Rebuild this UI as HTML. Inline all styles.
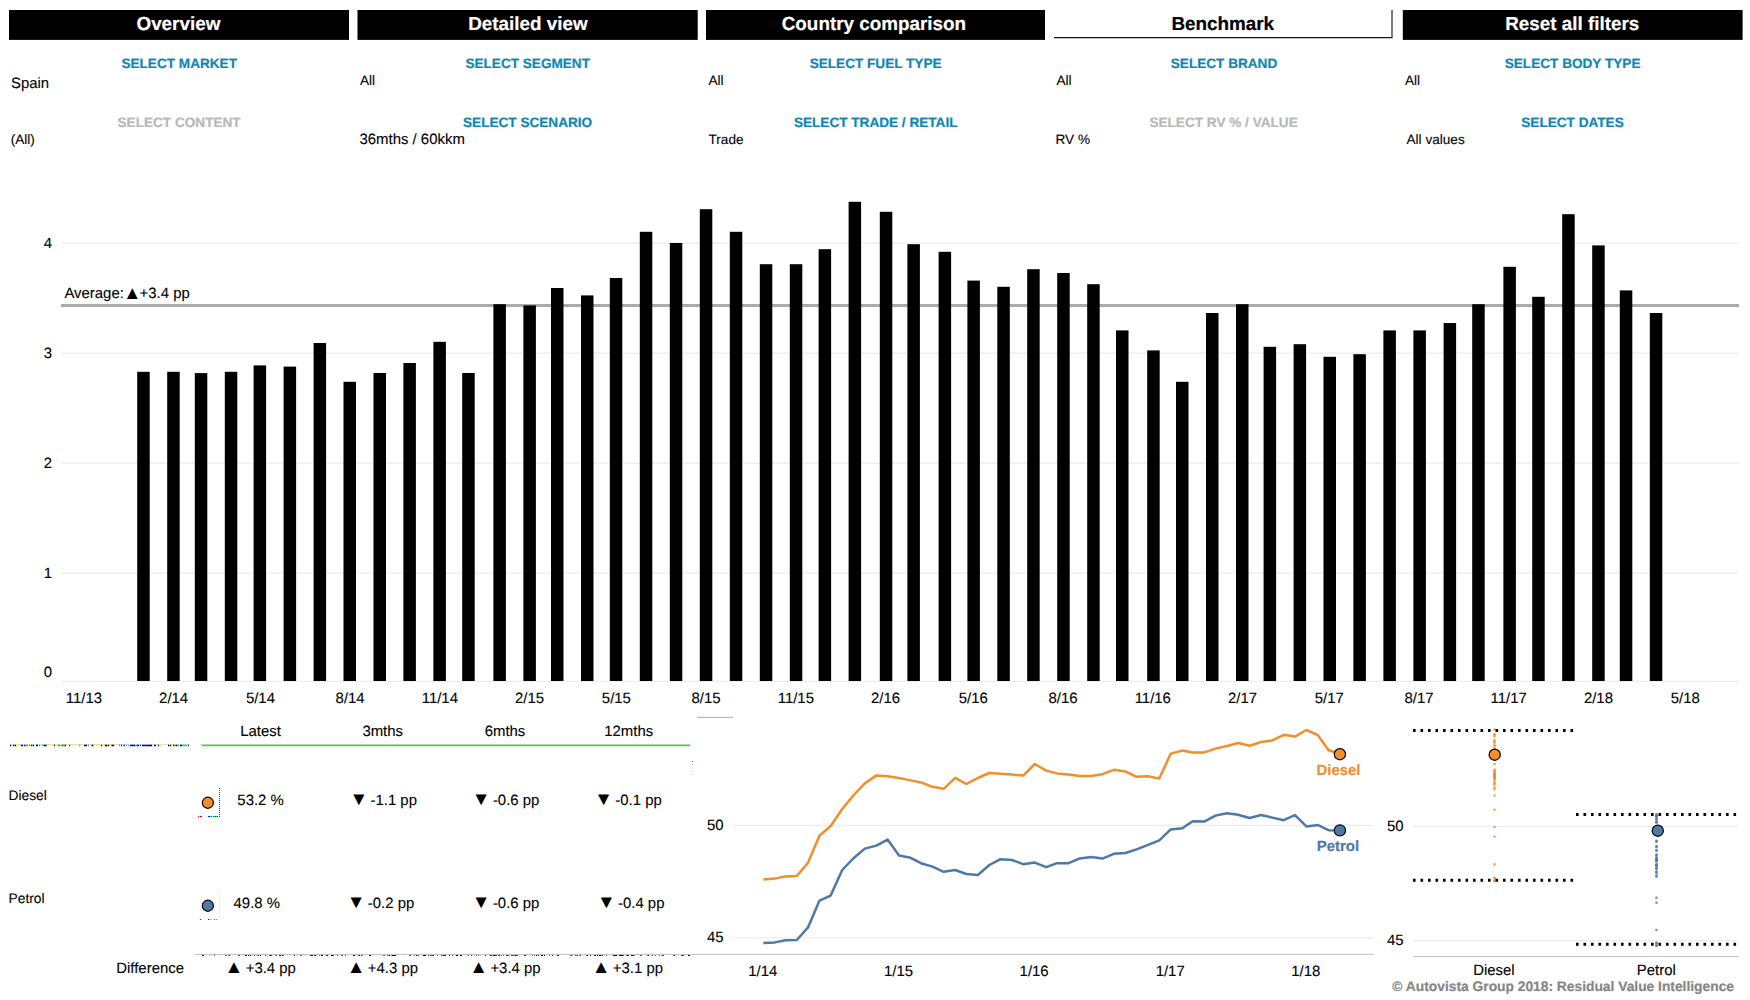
<!DOCTYPE html>
<html><head><meta charset="utf-8"><title>Benchmark</title>
<style>
html,body{margin:0;padding:0;background:#fff;}
body{width:1750px;height:1000px;overflow:hidden;}
svg{display:block;text-rendering:geometricPrecision;font-family:'Liberation Sans', Arial, sans-serif;}
</style></head><body>
<svg width="1750" height="1000" viewBox="0 0 1750 1000">
<rect x="9" y="10" width="340" height="29.9" fill="#000"/>
<text x="178.40" y="29.90" font-size="18.85" text-anchor="middle" font-weight="bold" fill="#fff" stroke="#fff" stroke-width="0.2">Overview</text>
<rect x="357.5" y="10" width="340.20000000000005" height="29.9" fill="#000"/>
<text x="527.90" y="29.90" font-size="18.85" text-anchor="middle" font-weight="bold" fill="#fff" stroke="#fff" stroke-width="0.2">Detailed view</text>
<rect x="706" y="10" width="339" height="29.9" fill="#000"/>
<text x="873.90" y="29.90" font-size="18.85" text-anchor="middle" font-weight="bold" fill="#fff" stroke="#fff" stroke-width="0.2">Country comparison</text>
<path d="M1054 37.6H1392.0V10" fill="none" stroke="#111" stroke-width="1.1"/>
<text x="1222.70" y="29.90" font-size="18.85" text-anchor="middle" font-weight="bold" fill="#000" stroke="#000" stroke-width="0.2">Benchmark</text>
<rect x="1402.8" y="10" width="339.79999999999995" height="29.9" fill="#000"/>
<text x="1572.30" y="29.90" font-size="18.85" text-anchor="middle" font-weight="bold" fill="#fff" stroke="#fff" stroke-width="0.2">Reset all filters</text>
<text x="179.20" y="68.30" font-size="13.6" text-anchor="middle" font-weight="bold" fill="#0c87b4" stroke="#0c87b4" stroke-width="0.2">SELECT MARKET</text>
<text x="527.70" y="68.30" font-size="13.6" text-anchor="middle" font-weight="bold" fill="#0c87b4" stroke="#0c87b4" stroke-width="0.2">SELECT SEGMENT</text>
<text x="875.60" y="68.30" font-size="13.6" text-anchor="middle" font-weight="bold" fill="#0c87b4" stroke="#0c87b4" stroke-width="0.2">SELECT FUEL TYPE</text>
<text x="1224.00" y="68.30" font-size="13.6" text-anchor="middle" font-weight="bold" fill="#0c87b4" stroke="#0c87b4" stroke-width="0.2">SELECT BRAND</text>
<text x="1572.60" y="68.30" font-size="13.6" text-anchor="middle" font-weight="bold" fill="#0c87b4" stroke="#0c87b4" stroke-width="0.2">SELECT BODY TYPE</text>
<text x="179.10" y="127.10" font-size="13.6" text-anchor="middle" font-weight="bold" fill="#b8b8b8" stroke="#b8b8b8" stroke-width="0.2">SELECT CONTENT</text>
<text x="527.60" y="127.10" font-size="13.6" text-anchor="middle" font-weight="bold" fill="#0c87b4" stroke="#0c87b4" stroke-width="0.2">SELECT SCENARIO</text>
<text x="875.70" y="127.10" font-size="13.6" text-anchor="middle" font-weight="bold" fill="#0c87b4" stroke="#0c87b4" stroke-width="0.2">SELECT TRADE / RETAIL</text>
<text x="1223.60" y="127.10" font-size="13.6" text-anchor="middle" font-weight="bold" fill="#b8b8b8" stroke="#b8b8b8" stroke-width="0.2">SELECT RV % / VALUE</text>
<text x="1572.50" y="127.10" font-size="13.6" text-anchor="middle" font-weight="bold" fill="#0c87b4" stroke="#0c87b4" stroke-width="0.2">SELECT DATES</text>
<text x="11.00" y="88.00" font-size="14.93" text-anchor="start" font-weight="normal" fill="#000" stroke="#000" stroke-width="0.1">Spain</text>
<text x="360.00" y="84.50" font-size="13.6" text-anchor="start" font-weight="normal" fill="#000" stroke="#000" stroke-width="0.1">All</text>
<text x="708.40" y="84.50" font-size="13.6" text-anchor="start" font-weight="normal" fill="#000" stroke="#000" stroke-width="0.1">All</text>
<text x="1056.50" y="84.50" font-size="13.6" text-anchor="start" font-weight="normal" fill="#000" stroke="#000" stroke-width="0.1">All</text>
<text x="1405.00" y="84.50" font-size="13.6" text-anchor="start" font-weight="normal" fill="#000" stroke="#000" stroke-width="0.1">All</text>
<text x="10.70" y="143.50" font-size="13.6" text-anchor="start" font-weight="normal" fill="#000" stroke="#000" stroke-width="0.1">(All)</text>
<text x="359.50" y="143.90" font-size="14.93" text-anchor="start" font-weight="normal" fill="#000" stroke="#000" stroke-width="0.1">36mths / 60kkm</text>
<text x="708.50" y="143.60" font-size="13.6" text-anchor="start" font-weight="normal" fill="#000" stroke="#000" stroke-width="0.1">Trade</text>
<text x="1055.50" y="143.60" font-size="13.6" text-anchor="start" font-weight="normal" fill="#000" stroke="#000" stroke-width="0.1">RV %</text>
<text x="1406.50" y="143.60" font-size="13.6" text-anchor="start" font-weight="normal" fill="#000" stroke="#000" stroke-width="0.1">All values</text>
<rect x="61" y="242.5" width="1677.5" height="1.2" fill="#ececec"/>
<text x="52.00" y="247.90" font-size="14.93" text-anchor="end" font-weight="normal" fill="#000" stroke="#000" stroke-width="0.1">4</text>
<rect x="61" y="352.5" width="1677.5" height="1.2" fill="#ececec"/>
<text x="52.00" y="357.90" font-size="14.93" text-anchor="end" font-weight="normal" fill="#000" stroke="#000" stroke-width="0.1">3</text>
<rect x="61" y="462.5" width="1677.5" height="1.2" fill="#ececec"/>
<text x="52.00" y="467.90" font-size="14.93" text-anchor="end" font-weight="normal" fill="#000" stroke="#000" stroke-width="0.1">2</text>
<rect x="61" y="572.5" width="1677.5" height="1.2" fill="#ececec"/>
<text x="52.00" y="577.90" font-size="14.93" text-anchor="end" font-weight="normal" fill="#000" stroke="#000" stroke-width="0.1">1</text>
<rect x="61" y="680.8" width="1677.5" height="1.1" fill="#ececec"/>
<text x="52.00" y="677.30" font-size="14.93" text-anchor="end" font-weight="normal" fill="#000" stroke="#000" stroke-width="0.1">0</text>
<rect x="61" y="304" width="1678" height="3" fill="#ababab"/>
<text x="64.40" y="298.20" font-size="14.93" text-anchor="start" font-weight="normal" fill="#000" stroke="#000" stroke-width="0.1">Average:</text>
<text transform="translate(123.17,298.80) scale(0.1825,0.1828)" font-size="100" fill="#000">▲</text>
<text x="139.60" y="298.20" font-size="14.93" text-anchor="start" font-weight="normal" fill="#000" stroke="#000" stroke-width="0.1">+3.4 pp</text>
<rect x="137.20" y="371.80" width="12.5" height="309.20" fill="#000"/>
<rect x="167.20" y="371.80" width="12.5" height="309.20" fill="#000"/>
<rect x="194.80" y="373.10" width="12.5" height="307.90" fill="#000"/>
<rect x="224.80" y="371.80" width="12.5" height="309.20" fill="#000"/>
<rect x="253.60" y="365.40" width="12.5" height="315.60" fill="#000"/>
<rect x="283.60" y="366.60" width="12.5" height="314.40" fill="#000"/>
<rect x="313.60" y="343.00" width="12.5" height="338.00" fill="#000"/>
<rect x="343.50" y="381.80" width="12.5" height="299.20" fill="#000"/>
<rect x="373.50" y="373.00" width="12.5" height="308.00" fill="#000"/>
<rect x="403.40" y="363.00" width="12.5" height="318.00" fill="#000"/>
<rect x="433.40" y="341.80" width="12.5" height="339.20" fill="#000"/>
<rect x="462.20" y="373.00" width="12.5" height="308.00" fill="#000"/>
<rect x="493.40" y="304.20" width="12.5" height="376.80" fill="#000"/>
<rect x="523.40" y="305.40" width="12.5" height="375.60" fill="#000"/>
<rect x="551.00" y="288.00" width="12.5" height="393.00" fill="#000"/>
<rect x="581.00" y="295.40" width="12.5" height="385.60" fill="#000"/>
<rect x="609.80" y="278.00" width="12.5" height="403.00" fill="#000"/>
<rect x="639.80" y="231.80" width="12.5" height="449.20" fill="#000"/>
<rect x="669.80" y="243.00" width="12.5" height="438.00" fill="#000"/>
<rect x="699.80" y="209.20" width="12.5" height="471.80" fill="#000"/>
<rect x="729.80" y="231.80" width="12.5" height="449.20" fill="#000"/>
<rect x="759.80" y="264.20" width="12.5" height="416.80" fill="#000"/>
<rect x="789.80" y="264.20" width="12.5" height="416.80" fill="#000"/>
<rect x="818.60" y="249.20" width="12.5" height="431.80" fill="#000"/>
<rect x="848.60" y="201.80" width="12.5" height="479.20" fill="#000"/>
<rect x="879.80" y="211.80" width="12.5" height="469.20" fill="#000"/>
<rect x="907.40" y="244.20" width="12.5" height="436.80" fill="#000"/>
<rect x="938.60" y="251.80" width="12.5" height="429.20" fill="#000"/>
<rect x="967.40" y="280.60" width="12.5" height="400.40" fill="#000"/>
<rect x="997.30" y="286.80" width="12.5" height="394.20" fill="#000"/>
<rect x="1027.20" y="269.20" width="12.5" height="411.80" fill="#000"/>
<rect x="1057.20" y="273.00" width="12.5" height="408.00" fill="#000"/>
<rect x="1087.20" y="284.20" width="12.5" height="396.80" fill="#000"/>
<rect x="1116.00" y="330.40" width="12.5" height="350.60" fill="#000"/>
<rect x="1147.20" y="350.40" width="12.5" height="330.60" fill="#000"/>
<rect x="1176.00" y="381.80" width="12.5" height="299.20" fill="#000"/>
<rect x="1206.00" y="313.00" width="12.5" height="368.00" fill="#000"/>
<rect x="1236.00" y="304.20" width="12.5" height="376.80" fill="#000"/>
<rect x="1263.60" y="346.80" width="12.5" height="334.20" fill="#000"/>
<rect x="1293.60" y="344.20" width="12.5" height="336.80" fill="#000"/>
<rect x="1323.50" y="356.80" width="12.5" height="324.20" fill="#000"/>
<rect x="1353.40" y="354.20" width="12.5" height="326.80" fill="#000"/>
<rect x="1383.40" y="330.40" width="12.5" height="350.60" fill="#000"/>
<rect x="1413.40" y="330.40" width="12.5" height="350.60" fill="#000"/>
<rect x="1443.60" y="323.00" width="12.5" height="358.00" fill="#000"/>
<rect x="1472.20" y="304.20" width="12.5" height="376.80" fill="#000"/>
<rect x="1503.40" y="266.80" width="12.5" height="414.20" fill="#000"/>
<rect x="1532.20" y="296.80" width="12.5" height="384.20" fill="#000"/>
<rect x="1562.20" y="214.20" width="12.5" height="466.80" fill="#000"/>
<rect x="1592.20" y="245.40" width="12.5" height="435.60" fill="#000"/>
<rect x="1619.80" y="290.40" width="12.5" height="390.60" fill="#000"/>
<rect x="1649.80" y="313.00" width="12.5" height="368.00" fill="#000"/>
<text x="83.90" y="703.40" font-size="14.93" text-anchor="middle" font-weight="normal" fill="#000" stroke="#000" stroke-width="0.1">11/13</text>
<text x="173.62" y="703.40" font-size="14.93" text-anchor="middle" font-weight="normal" fill="#000" stroke="#000" stroke-width="0.1">2/14</text>
<text x="260.42" y="703.40" font-size="14.93" text-anchor="middle" font-weight="normal" fill="#000" stroke="#000" stroke-width="0.1">5/14</text>
<text x="350.14" y="703.40" font-size="14.93" text-anchor="middle" font-weight="normal" fill="#000" stroke="#000" stroke-width="0.1">8/14</text>
<text x="439.86" y="703.40" font-size="14.93" text-anchor="middle" font-weight="normal" fill="#000" stroke="#000" stroke-width="0.1">11/14</text>
<text x="529.58" y="703.40" font-size="14.93" text-anchor="middle" font-weight="normal" fill="#000" stroke="#000" stroke-width="0.1">2/15</text>
<text x="616.38" y="703.40" font-size="14.93" text-anchor="middle" font-weight="normal" fill="#000" stroke="#000" stroke-width="0.1">5/15</text>
<text x="706.10" y="703.40" font-size="14.93" text-anchor="middle" font-weight="normal" fill="#000" stroke="#000" stroke-width="0.1">8/15</text>
<text x="795.83" y="703.40" font-size="14.93" text-anchor="middle" font-weight="normal" fill="#000" stroke="#000" stroke-width="0.1">11/15</text>
<text x="885.55" y="703.40" font-size="14.93" text-anchor="middle" font-weight="normal" fill="#000" stroke="#000" stroke-width="0.1">2/16</text>
<text x="973.32" y="703.40" font-size="14.93" text-anchor="middle" font-weight="normal" fill="#000" stroke="#000" stroke-width="0.1">5/16</text>
<text x="1063.04" y="703.40" font-size="14.93" text-anchor="middle" font-weight="normal" fill="#000" stroke="#000" stroke-width="0.1">8/16</text>
<text x="1152.76" y="703.40" font-size="14.93" text-anchor="middle" font-weight="normal" fill="#000" stroke="#000" stroke-width="0.1">11/16</text>
<text x="1242.49" y="703.40" font-size="14.93" text-anchor="middle" font-weight="normal" fill="#000" stroke="#000" stroke-width="0.1">2/17</text>
<text x="1329.28" y="703.40" font-size="14.93" text-anchor="middle" font-weight="normal" fill="#000" stroke="#000" stroke-width="0.1">5/17</text>
<text x="1419.00" y="703.40" font-size="14.93" text-anchor="middle" font-weight="normal" fill="#000" stroke="#000" stroke-width="0.1">8/17</text>
<text x="1508.73" y="703.40" font-size="14.93" text-anchor="middle" font-weight="normal" fill="#000" stroke="#000" stroke-width="0.1">11/17</text>
<text x="1598.45" y="703.40" font-size="14.93" text-anchor="middle" font-weight="normal" fill="#000" stroke="#000" stroke-width="0.1">2/18</text>
<text x="1685.24" y="703.40" font-size="14.93" text-anchor="middle" font-weight="normal" fill="#000" stroke="#000" stroke-width="0.1">5/18</text>
<rect x="10" y="744" width="179" height="0.9" fill="#d6d6d6"/>
<path d="M10 745.5h1M13 745.5h1M15 745.5h1M21 745.5h1M31 745.5h1M33 745.5h1M36 745.5h2M44 745.5h2M54 745.5h1M65 745.5h1M85 745.5h2M92 745.5h1M101 745.5h1M105 745.5h1M106 745.5h1M108 745.5h1M112 745.5h2M121 745.5h1M137 745.5h1M138 745.5h1M142 745.5h1M149 745.5h2M151 745.5h1M158 745.5h1M168 745.5h1M170 745.5h1M176 745.5h1M180 745.5h2M188 745.5h1" stroke="#000" stroke-width="1.4" fill="none"/>
<path d="M11 745.5h1M12 745.5h1M16 745.5h2M18 745.5h1M19 745.5h2M23 745.5h1M30 745.5h1M41 745.5h1M47 745.5h2M52 745.5h1M53 745.5h1M57 745.5h1M60 745.5h1M71 745.5h2M76 745.5h1M80 745.5h1M81 745.5h1M96 745.5h2M98 745.5h1M102 745.5h1M104 745.5h1M109 745.5h1M110 745.5h1M114 745.5h1M127 745.5h1M152 745.5h2M159 745.5h2M161 745.5h1M171 745.5h1M172 745.5h1" stroke="#ff0" stroke-width="1.4" fill="none"/>
<path d="M14 745.5h1M25 745.5h1M32 745.5h1M42 745.5h2M79 745.5h1M91 745.5h1M93 745.5h1M107 745.5h1M123 745.5h1M126 745.5h1M128 745.5h1M135 745.5h2M169 745.5h1M177 745.5h2M182 745.5h2M184 745.5h1M185 745.5h1M186 745.5h1" stroke="#0cf" stroke-width="1.4" fill="none"/>
<path d="M22 745.5h1M24 745.5h1M69 745.5h1M84 745.5h1M124 745.5h1M130 745.5h1M131 745.5h1M132 745.5h2M134 745.5h1M140 745.5h1M143 745.5h1M144 745.5h2M146 745.5h1M147 745.5h2M154 745.5h2M173 745.5h1" stroke="#00f" stroke-width="1.4" fill="none"/>
<path d="M26 745.5h2M29 745.5h1M39 745.5h1M46 745.5h1M58 745.5h2M61 745.5h2M63 745.5h2M88 745.5h1M111 745.5h1M119 745.5h1M174 745.5h1M175 745.5h1" stroke="#0c0" stroke-width="1.4" fill="none"/>
<rect x="200" y="744.0" width="490.3" height="0.9" fill="#d6d2d6"/>
<rect x="202" y="744.8" width="488.3" height="1.4" fill="#0cf20c"/>
<text x="260.50" y="735.60" font-size="14.93" text-anchor="middle" font-weight="normal" fill="#000" stroke="#000" stroke-width="0.1">Latest</text>
<text x="382.70" y="735.60" font-size="14.93" text-anchor="middle" font-weight="normal" fill="#000" stroke="#000" stroke-width="0.1">3mths</text>
<text x="505.00" y="735.60" font-size="14.93" text-anchor="middle" font-weight="normal" fill="#000" stroke="#000" stroke-width="0.1">6mths</text>
<text x="628.70" y="735.60" font-size="14.93" text-anchor="middle" font-weight="normal" fill="#000" stroke="#000" stroke-width="0.1">12mths</text>
<text x="8.50" y="799.60" font-size="13.8" text-anchor="start" font-weight="normal" fill="#000" stroke="#000" stroke-width="0.1">Diesel</text>
<text x="8.50" y="903.20" font-size="13.8" text-anchor="start" font-weight="normal" fill="#000" stroke="#000" stroke-width="0.1">Petrol</text>
<circle cx="207.85" cy="802.75" r="5.55" fill="#f28e2b" stroke="#000" stroke-width="1.2"/>
<circle cx="207.85" cy="905.75" r="5.55" fill="#4e79a7" stroke="#000" stroke-width="1.2"/>
<line x1="219.5" y1="788" x2="219.5" y2="817" stroke="#f00" stroke-width="1" stroke-dasharray="1 1"/>
<rect x="198" y="816" width="1" height="1" fill="#f0f"/>
<rect x="200" y="816" width="2" height="1" fill="#f00"/>
<rect x="208" y="816" width="1" height="1" fill="#00f"/>
<rect x="209" y="816" width="1" height="1" fill="#f00"/>
<rect x="210" y="816" width="1" height="1" fill="#0cf"/>
<rect x="211" y="816" width="1" height="1" fill="#f00"/>
<rect x="213" y="816" width="1" height="1" fill="#f00"/>
<rect x="214" y="816" width="1" height="1" fill="#0c0"/>
<rect x="215" y="816" width="1" height="1" fill="#f00"/>
<rect x="216" y="816" width="1" height="1" fill="#0cf"/>
<rect x="217" y="816" width="1" height="1" fill="#f00"/>
<line x1="219.5" y1="892" x2="219.5" y2="919" stroke="#ff0" stroke-width="1" stroke-dasharray="1 1"/>
<rect x="199" y="919" width="1" height="1" fill="#ff0"/>
<rect x="200" y="919" width="1" height="1" fill="#f00"/>
<rect x="201" y="919" width="1" height="1" fill="#ff0"/>
<rect x="208" y="919" width="1" height="1" fill="#00f"/>
<rect x="209" y="919" width="1" height="1" fill="#ff0"/>
<rect x="210" y="919" width="1" height="1" fill="#0cf"/>
<rect x="211" y="919" width="1" height="1" fill="#ff0"/>
<rect x="213" y="919" width="1" height="1" fill="#ff0"/>
<rect x="214" y="919" width="1" height="1" fill="#0c0"/>
<rect x="215" y="919" width="1" height="1" fill="#ff0"/>
<rect x="216" y="919" width="1" height="1" fill="#0cf"/>
<rect x="217" y="919" width="1" height="1" fill="#ff0"/>
<text x="260.60" y="805.00" font-size="14.93" text-anchor="middle" font-weight="normal" fill="#000" stroke="#000" stroke-width="0.1">53.2 %</text>
<text x="256.80" y="908.00" font-size="14.93" text-anchor="middle" font-weight="normal" fill="#000" stroke="#000" stroke-width="0.1">49.8 %</text>
<text transform="translate(349.42,805.32) scale(0.1895,0.1828)" font-size="100" fill="#000">▼</text>
<text x="370.50" y="805.00" font-size="14.93" text-anchor="start" font-weight="normal" fill="#000" stroke="#000" stroke-width="0.1">-1.1 pp</text>
<text transform="translate(471.82,805.32) scale(0.1895,0.1828)" font-size="100" fill="#000">▼</text>
<text x="492.90" y="805.00" font-size="14.93" text-anchor="start" font-weight="normal" fill="#000" stroke="#000" stroke-width="0.1">-0.6 pp</text>
<text transform="translate(594.22,805.32) scale(0.1895,0.1828)" font-size="100" fill="#000">▼</text>
<text x="615.30" y="805.00" font-size="14.93" text-anchor="start" font-weight="normal" fill="#000" stroke="#000" stroke-width="0.1">-0.1 pp</text>
<text transform="translate(346.72,908.02) scale(0.1895,0.1828)" font-size="100" fill="#000">▼</text>
<text x="367.80" y="907.70" font-size="14.93" text-anchor="start" font-weight="normal" fill="#000" stroke="#000" stroke-width="0.1">-0.2 pp</text>
<text transform="translate(471.82,908.02) scale(0.1895,0.1828)" font-size="100" fill="#000">▼</text>
<text x="492.90" y="907.70" font-size="14.93" text-anchor="start" font-weight="normal" fill="#000" stroke="#000" stroke-width="0.1">-0.6 pp</text>
<text transform="translate(596.92,908.02) scale(0.1895,0.1828)" font-size="100" fill="#000">▼</text>
<text x="618.00" y="907.70" font-size="14.93" text-anchor="start" font-weight="normal" fill="#000" stroke="#000" stroke-width="0.1">-0.4 pp</text>
<text transform="translate(224.62,972.90) scale(0.1895,0.1828)" font-size="100" fill="#000">▲</text>
<text x="245.70" y="972.80" font-size="14.93" text-anchor="start" font-weight="normal" fill="#000" stroke="#000" stroke-width="0.1">+3.4 pp</text>
<text transform="translate(346.72,972.90) scale(0.1895,0.1828)" font-size="100" fill="#000">▲</text>
<text x="367.80" y="972.80" font-size="14.93" text-anchor="start" font-weight="normal" fill="#000" stroke="#000" stroke-width="0.1">+4.3 pp</text>
<text transform="translate(469.32,972.90) scale(0.1895,0.1828)" font-size="100" fill="#000">▲</text>
<text x="490.40" y="972.80" font-size="14.93" text-anchor="start" font-weight="normal" fill="#000" stroke="#000" stroke-width="0.1">+3.4 pp</text>
<text transform="translate(591.72,972.90) scale(0.1895,0.1828)" font-size="100" fill="#000">▲</text>
<text x="612.80" y="972.80" font-size="14.93" text-anchor="start" font-weight="normal" fill="#000" stroke="#000" stroke-width="0.1">+3.1 pp</text>
<text x="184.00" y="972.60" font-size="14.93" text-anchor="end" font-weight="normal" fill="#000" stroke="#000" stroke-width="0.1">Difference</text>
<rect x="195" y="953.9" width="502" height="1" fill="#bebebe"/>
<path d="M201 955.5h1M205 955.5h1M209 955.5h2M211 955.5h1M218 955.5h1M220 955.5h1M243 955.5h2M251 955.5h2M255 955.5h1M256 955.5h1M266 955.5h2M287 955.5h1M290 955.5h1M296 955.5h2M304 955.5h2M306 955.5h1M328 955.5h1M335 955.5h1M356 955.5h1M365 955.5h1M404 955.5h1M458 955.5h1M465 955.5h1M474 955.5h2M479 955.5h2M481 955.5h1M486 955.5h1M489 955.5h1M529 955.5h2M540 955.5h1M610 955.5h2M651 955.5h1" stroke="#ff0" stroke-width="1" fill="none"/>
<path d="M202 955.5h2M245 955.5h2M248 955.5h1M279 955.5h2M327 955.5h1M331 955.5h1M389 955.5h1M416 955.5h1M444 955.5h2M490 955.5h1M491 955.5h1M499 955.5h1M538 955.5h1M552 955.5h1M557 955.5h2M587 955.5h1M594 955.5h2M599 955.5h2M613 955.5h2M627 955.5h1M628 955.5h1M648 955.5h1M674 955.5h1M682 955.5h1" stroke="#00f" stroke-width="1" fill="none"/>
<path d="M214 955.5h1M319 955.5h1M341 955.5h1M387 955.5h1M391 955.5h1M417 955.5h1M501 955.5h1M513 955.5h2M572 955.5h1M576 955.5h1M579 955.5h1M626 955.5h1M647 955.5h1M673 955.5h1M681 955.5h1" stroke="#0c0" stroke-width="1" fill="none"/>
<path d="M225 955.5h2M228 955.5h1M257 955.5h1M258 955.5h1M269 955.5h1M275 955.5h1M276 955.5h1M283 955.5h1M300 955.5h2M337 955.5h1M345 955.5h1M358 955.5h1M361 955.5h2M383 955.5h2M388 955.5h1M409 955.5h2M414 955.5h1M418 955.5h1M432 955.5h1M437 955.5h1M441 955.5h2M476 955.5h1M478 955.5h1M503 955.5h1M524 955.5h1M532 955.5h1M549 955.5h1M570 955.5h2M586 955.5h1M601 955.5h1M606 955.5h1M623 955.5h1M633 955.5h2M655 955.5h1M659 955.5h1" stroke="#f0f" stroke-width="1" fill="none"/>
<path d="M229 955.5h1M238 955.5h2M254 955.5h1M265 955.5h1M271 955.5h1M310 955.5h1M314 955.5h1M333 955.5h1M342 955.5h1M428 955.5h1M430 955.5h1M431 955.5h1M443 955.5h1M452 955.5h1M468 955.5h1M471 955.5h1M485 955.5h1M495 955.5h2M498 955.5h1M506 955.5h2M508 955.5h1M511 955.5h2M516 955.5h2M534 955.5h1M575 955.5h1M577 955.5h1M580 955.5h1M602 955.5h1M640 955.5h2M652 955.5h1M662 955.5h2M683 955.5h1" stroke="#f00" stroke-width="1" fill="none"/>
<path d="M250 955.5h1M260 955.5h1M270 955.5h1M282 955.5h1M294 955.5h1M311 955.5h1M312 955.5h1M315 955.5h1M321 955.5h2M326 955.5h1M332 955.5h1M353 955.5h2M359 955.5h1M369 955.5h2M392 955.5h2M394 955.5h2M423 955.5h1M424 955.5h2M433 955.5h1M449 955.5h1M456 955.5h2M460 955.5h2M493 955.5h2M515 955.5h1M525 955.5h1M536 955.5h1M541 955.5h2M544 955.5h1M590 955.5h1M597 955.5h1M615 955.5h2M619 955.5h2M621 955.5h2M631 955.5h1M632 955.5h1M688 955.5h1M689 955.5h1" stroke="#000" stroke-width="1" fill="none"/>
<rect x="697" y="716.8" width="36" height="1.2" fill="#bcbcbc"/>
<rect x="692" y="761" width="1" height="1" fill="#f0f"/>
<rect x="692" y="764" width="1" height="1" fill="#fbb"/>
<rect x="692" y="771" width="1" height="1" fill="#fbb"/>
<rect x="692" y="774" width="1" height="1" fill="#ccc"/>
<rect x="733.5" y="824.8" width="640.5" height="1.2" fill="#ececec"/>
<text x="723.50" y="830.20" font-size="14.93" text-anchor="end" font-weight="normal" fill="#000" stroke="#000" stroke-width="0.1">50</text>
<rect x="733.5" y="937.3" width="640.5" height="1.2" fill="#ececec"/>
<text x="723.50" y="942.30" font-size="14.93" text-anchor="end" font-weight="normal" fill="#000" stroke="#000" stroke-width="0.1">45</text>
<rect x="697" y="953.8" width="677" height="1.1" fill="#c4c4c4"/>
<text x="762.80" y="975.60" font-size="14.93" text-anchor="middle" font-weight="normal" fill="#000" stroke="#000" stroke-width="0.1">1/14</text>
<text x="898.47" y="975.60" font-size="14.93" text-anchor="middle" font-weight="normal" fill="#000" stroke="#000" stroke-width="0.1">1/15</text>
<text x="1034.14" y="975.60" font-size="14.93" text-anchor="middle" font-weight="normal" fill="#000" stroke="#000" stroke-width="0.1">1/16</text>
<text x="1170.18" y="975.60" font-size="14.93" text-anchor="middle" font-weight="normal" fill="#000" stroke="#000" stroke-width="0.1">1/17</text>
<text x="1305.85" y="975.60" font-size="14.93" text-anchor="middle" font-weight="normal" fill="#000" stroke="#000" stroke-width="0.1">1/18</text>
<polyline points="763.40,879.40 774.92,878.60 785.33,876.40 796.85,876.00 808.00,862.80 819.53,835.60 830.68,826.00 842.20,809.00 853.72,795.00 864.87,783.40 876.40,775.40 887.55,776.20 899.07,778.00 910.59,780.40 921.00,782.40 932.52,786.80 943.67,788.80 955.20,777.80 966.35,784.00 977.87,778.00 989.39,773.00 1000.54,773.80 1012.07,774.60 1023.22,775.60 1034.74,764.00 1046.26,770.60 1057.04,773.40 1068.57,774.40 1079.72,776.00 1091.24,776.00 1102.39,774.20 1113.91,769.80 1125.44,771.40 1136.59,776.80 1148.11,776.20 1159.26,778.60 1170.78,753.60 1182.31,750.60 1192.71,752.60 1204.24,752.40 1215.39,748.60 1226.91,746.00 1238.06,743.00 1249.58,745.80 1261.11,742.00 1272.26,740.40 1283.78,734.80 1294.93,736.60 1306.45,730.00 1317.98,735.20 1328.38,750.00 1339.91,754.20" fill="none" stroke="#f28e2b" stroke-width="2.5" stroke-linejoin="round" stroke-linecap="butt"/>
<polyline points="763.40,943.00 774.92,942.40 785.33,940.20 796.85,940.00 808.00,927.40 819.53,900.60 830.68,895.60 842.20,870.00 853.72,858.00 864.87,848.60 876.40,845.60 887.55,839.60 899.07,855.60 910.59,857.80 921.00,863.20 932.52,866.60 943.67,871.80 955.20,870.00 966.35,874.00 977.87,875.00 989.39,865.00 1000.54,859.20 1012.07,860.00 1023.22,864.20 1034.74,862.60 1046.26,867.20 1057.04,863.20 1068.57,863.20 1079.72,858.40 1091.24,857.00 1102.39,858.60 1113.91,853.80 1125.44,853.00 1136.59,849.40 1148.11,844.80 1159.26,840.40 1170.78,829.40 1182.31,828.20 1192.71,821.20 1204.24,821.60 1215.39,815.60 1226.91,813.20 1238.06,814.80 1249.58,818.00 1261.11,815.00 1272.26,817.60 1283.78,820.20 1294.93,815.20 1306.45,826.40 1317.98,825.00 1328.38,830.20 1339.91,830.40" fill="none" stroke="#4e79a7" stroke-width="2.5" stroke-linejoin="round" stroke-linecap="butt"/>
<circle cx="1339.91" cy="754.20" r="5.6" fill="#f28e2b" stroke="#000" stroke-width="1.2"/>
<circle cx="1339.91" cy="830.40" r="5.6" fill="#4e79a7" stroke="#000" stroke-width="1.2"/>
<text x="1338.50" y="775.40" font-size="14.93" text-anchor="middle" font-weight="bold" fill="#f28e2b" stroke="#f28e2b" stroke-width="0.2">Diesel</text>
<text x="1338.00" y="850.90" font-size="14.93" text-anchor="middle" font-weight="bold" fill="#4e79a7" stroke="#4e79a7" stroke-width="0.2">Petrol</text>
<rect x="1413" y="825.80" width="324.5" height="1.2" fill="#ececec"/>
<text x="1403.50" y="831.00" font-size="14.93" text-anchor="end" font-weight="normal" fill="#000" stroke="#000" stroke-width="0.1">50</text>
<rect x="1413" y="940.10" width="324.5" height="1.2" fill="#ececec"/>
<text x="1403.50" y="945.30" font-size="14.93" text-anchor="end" font-weight="normal" fill="#000" stroke="#000" stroke-width="0.1">45</text>
<rect x="1413" y="956" width="325.5" height="1.1" fill="#c4c4c4"/>
<circle cx="1494.5" cy="881.26" r="1.3" fill="#f28e2b" fill-opacity="0.8"/>
<circle cx="1494.5" cy="880.45" r="1.3" fill="#f28e2b" fill-opacity="0.8"/>
<circle cx="1494.5" cy="878.22" r="1.3" fill="#f28e2b" fill-opacity="0.8"/>
<circle cx="1494.5" cy="877.81" r="1.3" fill="#f28e2b" fill-opacity="0.8"/>
<circle cx="1494.5" cy="864.40" r="1.3" fill="#f28e2b" fill-opacity="0.8"/>
<circle cx="1494.5" cy="836.76" r="1.3" fill="#f28e2b" fill-opacity="0.8"/>
<circle cx="1494.5" cy="827.01" r="1.3" fill="#f28e2b" fill-opacity="0.8"/>
<circle cx="1494.5" cy="809.74" r="1.3" fill="#f28e2b" fill-opacity="0.8"/>
<circle cx="1494.5" cy="795.51" r="1.3" fill="#f28e2b" fill-opacity="0.8"/>
<circle cx="1494.5" cy="783.73" r="1.3" fill="#f28e2b" fill-opacity="0.8"/>
<circle cx="1494.5" cy="775.60" r="1.3" fill="#f28e2b" fill-opacity="0.8"/>
<circle cx="1494.5" cy="776.41" r="1.3" fill="#f28e2b" fill-opacity="0.8"/>
<circle cx="1494.5" cy="778.24" r="1.3" fill="#f28e2b" fill-opacity="0.8"/>
<circle cx="1494.5" cy="780.68" r="1.3" fill="#f28e2b" fill-opacity="0.8"/>
<circle cx="1494.5" cy="782.71" r="1.3" fill="#f28e2b" fill-opacity="0.8"/>
<circle cx="1494.5" cy="787.18" r="1.3" fill="#f28e2b" fill-opacity="0.8"/>
<circle cx="1494.5" cy="789.21" r="1.3" fill="#f28e2b" fill-opacity="0.8"/>
<circle cx="1494.5" cy="778.04" r="1.3" fill="#f28e2b" fill-opacity="0.8"/>
<circle cx="1494.5" cy="784.34" r="1.3" fill="#f28e2b" fill-opacity="0.8"/>
<circle cx="1494.5" cy="778.24" r="1.3" fill="#f28e2b" fill-opacity="0.8"/>
<circle cx="1494.5" cy="773.16" r="1.3" fill="#f28e2b" fill-opacity="0.8"/>
<circle cx="1494.5" cy="773.97" r="1.3" fill="#f28e2b" fill-opacity="0.8"/>
<circle cx="1494.5" cy="774.79" r="1.3" fill="#f28e2b" fill-opacity="0.8"/>
<circle cx="1494.5" cy="775.80" r="1.3" fill="#f28e2b" fill-opacity="0.8"/>
<circle cx="1494.5" cy="764.02" r="1.3" fill="#f28e2b" fill-opacity="0.8"/>
<circle cx="1494.5" cy="770.72" r="1.3" fill="#f28e2b" fill-opacity="0.8"/>
<circle cx="1494.5" cy="773.57" r="1.3" fill="#f28e2b" fill-opacity="0.8"/>
<circle cx="1494.5" cy="774.58" r="1.3" fill="#f28e2b" fill-opacity="0.8"/>
<circle cx="1494.5" cy="776.21" r="1.3" fill="#f28e2b" fill-opacity="0.8"/>
<circle cx="1494.5" cy="776.21" r="1.3" fill="#f28e2b" fill-opacity="0.8"/>
<circle cx="1494.5" cy="774.38" r="1.3" fill="#f28e2b" fill-opacity="0.8"/>
<circle cx="1494.5" cy="769.91" r="1.3" fill="#f28e2b" fill-opacity="0.8"/>
<circle cx="1494.5" cy="771.54" r="1.3" fill="#f28e2b" fill-opacity="0.8"/>
<circle cx="1494.5" cy="777.02" r="1.3" fill="#f28e2b" fill-opacity="0.8"/>
<circle cx="1494.5" cy="776.41" r="1.3" fill="#f28e2b" fill-opacity="0.8"/>
<circle cx="1494.5" cy="778.85" r="1.3" fill="#f28e2b" fill-opacity="0.8"/>
<circle cx="1494.5" cy="753.45" r="1.3" fill="#f28e2b" fill-opacity="0.8"/>
<circle cx="1494.5" cy="750.40" r="1.3" fill="#f28e2b" fill-opacity="0.8"/>
<circle cx="1494.5" cy="752.44" r="1.3" fill="#f28e2b" fill-opacity="0.8"/>
<circle cx="1494.5" cy="752.23" r="1.3" fill="#f28e2b" fill-opacity="0.8"/>
<circle cx="1494.5" cy="748.37" r="1.3" fill="#f28e2b" fill-opacity="0.8"/>
<circle cx="1494.5" cy="745.73" r="1.3" fill="#f28e2b" fill-opacity="0.8"/>
<circle cx="1494.5" cy="742.68" r="1.3" fill="#f28e2b" fill-opacity="0.8"/>
<circle cx="1494.5" cy="745.53" r="1.3" fill="#f28e2b" fill-opacity="0.8"/>
<circle cx="1494.5" cy="741.67" r="1.3" fill="#f28e2b" fill-opacity="0.8"/>
<circle cx="1494.5" cy="740.04" r="1.3" fill="#f28e2b" fill-opacity="0.8"/>
<circle cx="1494.5" cy="734.35" r="1.3" fill="#f28e2b" fill-opacity="0.8"/>
<circle cx="1494.5" cy="736.18" r="1.3" fill="#f28e2b" fill-opacity="0.8"/>
<circle cx="1494.5" cy="729.47" r="1.3" fill="#f28e2b" fill-opacity="0.8"/>
<circle cx="1494.5" cy="734.76" r="1.3" fill="#f28e2b" fill-opacity="0.8"/>
<circle cx="1494.5" cy="749.79" r="1.3" fill="#f28e2b" fill-opacity="0.8"/>
<circle cx="1494.5" cy="754.06" r="1.3" fill="#f28e2b" fill-opacity="0.8"/>
<circle cx="1656.5" cy="945.88" r="1.3" fill="#4e79a7" fill-opacity="0.8"/>
<circle cx="1656.5" cy="945.27" r="1.3" fill="#4e79a7" fill-opacity="0.8"/>
<circle cx="1656.5" cy="943.04" r="1.3" fill="#4e79a7" fill-opacity="0.8"/>
<circle cx="1656.5" cy="942.83" r="1.3" fill="#4e79a7" fill-opacity="0.8"/>
<circle cx="1656.5" cy="930.03" r="1.3" fill="#4e79a7" fill-opacity="0.8"/>
<circle cx="1656.5" cy="902.80" r="1.3" fill="#4e79a7" fill-opacity="0.8"/>
<circle cx="1656.5" cy="897.72" r="1.3" fill="#4e79a7" fill-opacity="0.8"/>
<circle cx="1656.5" cy="871.71" r="1.3" fill="#4e79a7" fill-opacity="0.8"/>
<circle cx="1656.5" cy="859.52" r="1.3" fill="#4e79a7" fill-opacity="0.8"/>
<circle cx="1656.5" cy="849.97" r="1.3" fill="#4e79a7" fill-opacity="0.8"/>
<circle cx="1656.5" cy="846.92" r="1.3" fill="#4e79a7" fill-opacity="0.8"/>
<circle cx="1656.5" cy="840.83" r="1.3" fill="#4e79a7" fill-opacity="0.8"/>
<circle cx="1656.5" cy="857.08" r="1.3" fill="#4e79a7" fill-opacity="0.8"/>
<circle cx="1656.5" cy="859.32" r="1.3" fill="#4e79a7" fill-opacity="0.8"/>
<circle cx="1656.5" cy="864.80" r="1.3" fill="#4e79a7" fill-opacity="0.8"/>
<circle cx="1656.5" cy="868.26" r="1.3" fill="#4e79a7" fill-opacity="0.8"/>
<circle cx="1656.5" cy="873.54" r="1.3" fill="#4e79a7" fill-opacity="0.8"/>
<circle cx="1656.5" cy="871.71" r="1.3" fill="#4e79a7" fill-opacity="0.8"/>
<circle cx="1656.5" cy="875.78" r="1.3" fill="#4e79a7" fill-opacity="0.8"/>
<circle cx="1656.5" cy="876.79" r="1.3" fill="#4e79a7" fill-opacity="0.8"/>
<circle cx="1656.5" cy="866.63" r="1.3" fill="#4e79a7" fill-opacity="0.8"/>
<circle cx="1656.5" cy="860.74" r="1.3" fill="#4e79a7" fill-opacity="0.8"/>
<circle cx="1656.5" cy="861.55" r="1.3" fill="#4e79a7" fill-opacity="0.8"/>
<circle cx="1656.5" cy="865.82" r="1.3" fill="#4e79a7" fill-opacity="0.8"/>
<circle cx="1656.5" cy="864.20" r="1.3" fill="#4e79a7" fill-opacity="0.8"/>
<circle cx="1656.5" cy="868.87" r="1.3" fill="#4e79a7" fill-opacity="0.8"/>
<circle cx="1656.5" cy="864.80" r="1.3" fill="#4e79a7" fill-opacity="0.8"/>
<circle cx="1656.5" cy="864.80" r="1.3" fill="#4e79a7" fill-opacity="0.8"/>
<circle cx="1656.5" cy="859.93" r="1.3" fill="#4e79a7" fill-opacity="0.8"/>
<circle cx="1656.5" cy="858.51" r="1.3" fill="#4e79a7" fill-opacity="0.8"/>
<circle cx="1656.5" cy="860.13" r="1.3" fill="#4e79a7" fill-opacity="0.8"/>
<circle cx="1656.5" cy="855.25" r="1.3" fill="#4e79a7" fill-opacity="0.8"/>
<circle cx="1656.5" cy="854.44" r="1.3" fill="#4e79a7" fill-opacity="0.8"/>
<circle cx="1656.5" cy="850.78" r="1.3" fill="#4e79a7" fill-opacity="0.8"/>
<circle cx="1656.5" cy="846.11" r="1.3" fill="#4e79a7" fill-opacity="0.8"/>
<circle cx="1656.5" cy="841.64" r="1.3" fill="#4e79a7" fill-opacity="0.8"/>
<circle cx="1656.5" cy="830.46" r="1.3" fill="#4e79a7" fill-opacity="0.8"/>
<circle cx="1656.5" cy="829.24" r="1.3" fill="#4e79a7" fill-opacity="0.8"/>
<circle cx="1656.5" cy="822.13" r="1.3" fill="#4e79a7" fill-opacity="0.8"/>
<circle cx="1656.5" cy="822.54" r="1.3" fill="#4e79a7" fill-opacity="0.8"/>
<circle cx="1656.5" cy="816.44" r="1.3" fill="#4e79a7" fill-opacity="0.8"/>
<circle cx="1656.5" cy="814.00" r="1.3" fill="#4e79a7" fill-opacity="0.8"/>
<circle cx="1656.5" cy="815.63" r="1.3" fill="#4e79a7" fill-opacity="0.8"/>
<circle cx="1656.5" cy="818.88" r="1.3" fill="#4e79a7" fill-opacity="0.8"/>
<circle cx="1656.5" cy="815.83" r="1.3" fill="#4e79a7" fill-opacity="0.8"/>
<circle cx="1656.5" cy="818.48" r="1.3" fill="#4e79a7" fill-opacity="0.8"/>
<circle cx="1656.5" cy="821.12" r="1.3" fill="#4e79a7" fill-opacity="0.8"/>
<circle cx="1656.5" cy="816.04" r="1.3" fill="#4e79a7" fill-opacity="0.8"/>
<circle cx="1656.5" cy="827.42" r="1.3" fill="#4e79a7" fill-opacity="0.8"/>
<circle cx="1656.5" cy="825.99" r="1.3" fill="#4e79a7" fill-opacity="0.8"/>
<circle cx="1656.5" cy="831.28" r="1.3" fill="#4e79a7" fill-opacity="0.8"/>
<circle cx="1656.5" cy="831.48" r="1.3" fill="#4e79a7" fill-opacity="0.8"/>
<line x1="1413" y1="730.5" x2="1573.3" y2="730.5" stroke="#000" stroke-width="3" stroke-dasharray="2.6 4.9"/>
<line x1="1413" y1="880.3" x2="1573.3" y2="880.3" stroke="#000" stroke-width="3" stroke-dasharray="2.6 4.9"/>
<line x1="1576" y1="814.5" x2="1736.3" y2="814.5" stroke="#000" stroke-width="3" stroke-dasharray="2.6 4.9"/>
<line x1="1576" y1="944.3" x2="1736.3" y2="944.3" stroke="#000" stroke-width="3" stroke-dasharray="2.6 4.9"/>
<circle cx="1494.7" cy="754.7" r="5.6" fill="#f28e2b" stroke="#000" stroke-width="1.2"/>
<circle cx="1657.8" cy="830.7" r="5.6" fill="#4e79a7" stroke="#000" stroke-width="1.2"/>
<text x="1493.90" y="975.20" font-size="14.93" text-anchor="middle" font-weight="normal" fill="#000" stroke="#000" stroke-width="0.1">Diesel</text>
<text x="1656.30" y="975.20" font-size="14.93" text-anchor="middle" font-weight="normal" fill="#000" stroke="#000" stroke-width="0.1">Petrol</text>
<text x="1734.00" y="991.20" font-size="13.8" text-anchor="end" font-weight="bold" fill="#868686" stroke="#868686" stroke-width="0.2">© Autovista Group 2018: Residual Value Intelligence</text>
</svg>
</body></html>
